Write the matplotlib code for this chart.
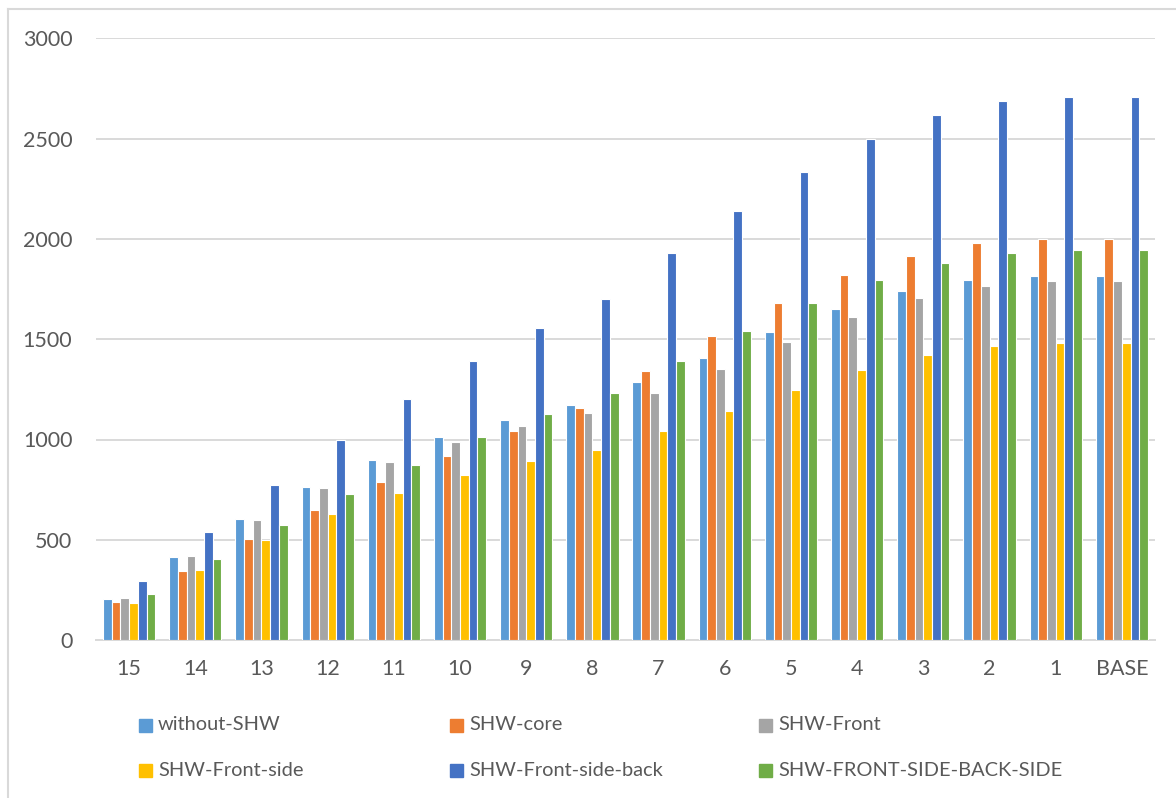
import numpy as np
import matplotlib.pyplot as plt
from matplotlib.patches import Rectangle
from matplotlib.lines import Line2D

plt.rcParams['font.family'] = ['Lato', 'DejaVu Sans']

categories = ['15', '14', '13', '12', '11', '10', '9', '8', '7', '6', '5', '4', '3', '2', '1', 'BASE']
series_names = ['without-SHW', 'SHW-core', 'SHW-Front', 'SHW-Front-side',
                'SHW-Front-side-back', 'SHW-FRONT-SIDE-BACK-SIDE']

without_shw = [205, 415, 602, 765, 900, 1010, 1098, 1170, 1285, 1408, 1535, 1652, 1742, 1796, 1815, 1815]
shw_core = [190, 345, 502, 648, 788, 920, 1043, 1158, 1342, 1516, 1682, 1818, 1916, 1978, 1998, 1998]
shw_front = [210, 417, 600, 760, 888, 988, 1067, 1130, 1233, 1352, 1485, 1610, 1708, 1768, 1790, 1790]
shw_front_side = [187, 350, 498, 628, 735, 823, 893, 950, 1043, 1140, 1247, 1345, 1420, 1465, 1482, 1482]
shw_front_side_back = [292, 537, 773, 997, 1203, 1393, 1557, 1703, 1928, 2140, 2333, 2497, 2618, 2687, 2708, 2708]
shw_fsbs = [228, 403, 572, 730, 875, 1010, 1128, 1233, 1393, 1541, 1680, 1795, 1880, 1930, 1946, 1946]

colors = ['#5B9BD5', '#ED7D31', '#A5A5A5', '#FFC000', '#4472C4', '#70AD47']
all_series = [without_shw, shw_core, shw_front, shw_front_side, shw_front_side_back, shw_fsbs]

fig = plt.figure(figsize=(11.76, 7.98), dpi=100)
ax = fig.add_axes([96 / 1176, 1 - 640 / 798, (1155 - 96) / 1176, (640 - 38.5) / 798])

x = np.arange(len(categories))
group_w = 0.79
bw = group_w / len(all_series)
for i, (vals, c) in enumerate(zip(all_series, colors)):
    ax.bar(x - group_w / 2 + bw * (i + 0.5), vals, width=bw, color=c,
           edgecolor='white', linewidth=0.8, zorder=3)

ax.set_xlim(-0.5, len(categories) - 0.5)
ax.set_ylim(0, 3000)
ax.set_yticks(np.arange(0, 3001, 500))
ax.set_xticks(x)
ax.set_xticklabels(categories)
ax.grid(axis='y', color='#D9D9D9', linewidth=1.4, zorder=0)
ax.tick_params(axis='both', length=0, labelsize=15.5, colors='#595959')
ax.tick_params(axis='y', pad=17)
ax.tick_params(axis='x', pad=14)
for s in ['top', 'right', 'left']:
    ax.spines[s].set_visible(False)
ax.spines['bottom'].set_color('#D9D9D9')
ax.spines['bottom'].set_linewidth(1.4)

# legend, two rows of three
col_x = [139, 450, 759]
row_y = [725, 770]
for i, (name, c) in enumerate(zip(series_names, colors)):
    px = col_x[i % 3]
    py = row_y[i // 3]
    fig.add_artist(Rectangle((px / 1176, 1 - (py + 7) / 798), 13 / 1176, 13 / 798,
                             transform=fig.transFigure, color=c))
    fig.text((px + 19) / 1176, 1 - py / 798, name, fontsize=14.4, color='#595959',
             va='center', ha='left')

# chart frame
fig.add_artist(Line2D([8 / 1176, 8 / 1176], [0, 1 - 9 / 798], transform=fig.transFigure,
                      color='#D9D9D9', linewidth=1.5))
fig.add_artist(Line2D([8 / 1176, 1], [1 - 9 / 798, 1 - 9 / 798], transform=fig.transFigure,
                      color='#D9D9D9', linewidth=1.5))

fig.savefig('out.png', dpi=100)
